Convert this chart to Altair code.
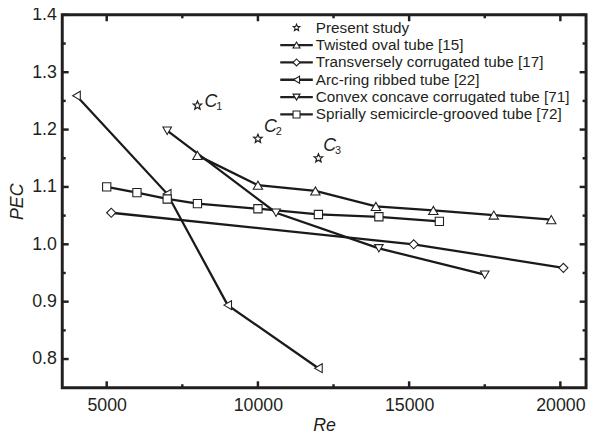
import math
import altair as alt
import pandas as pd

FONT = "Liberation Sans"
INK = "#231f20"

# ---------------- data ----------------
series_names = [
    "Twisted oval tube [15]",
    "Transversely corrugated tube [17]",
    "Arc-ring ribbed tube [22]",
    "Convex concave corrugated tube [71]",
    "Sprially semicircle-grooved tube [72]",
]
present_name = "Present study"

twisted_re = [8000, 10000, 11900, 13900, 15800, 17800, 19700]
twisted_pec = [1.155, 1.103, 1.093, 1.066, 1.059, 1.051, 1.043]
trans_re = [5150, 15150, 20100]
trans_pec = [1.055, 1.000, 0.959]
arc_re = [4000, 7000, 9000, 12000]
arc_pec = [1.259, 1.088, 0.894, 0.784]
convex_re = [7000, 10600, 14000, 17500]
convex_pec = [1.198, 1.055, 0.993, 0.947]
spiral_re = [5000, 6000, 7000, 8000, 10000, 12000, 14000, 16000]
spiral_pec = [1.100, 1.090, 1.079, 1.071, 1.062, 1.052, 1.048, 1.040]

present_re = [8000, 10000, 12000]
present_pec = [1.242, 1.184, 1.150]
case_letter = ["C", "C", "C"]
case_index = ["1", "2", "3"]
case_label_re = [8230, 10200, 12160]
case_label_pec = [1.248, 1.204, 1.171]

x_range = [3530, 20850]
y_range = [0.75, 1.4]
x_major = [5000, 10000, 15000, 20000]
x_minor = [7500, 12500, 17500]
y_major = [0.8, 0.9, 1.0, 1.1, 1.2, 1.3, 1.4]
y_minor = [0.85, 0.95, 1.05, 1.15, 1.25, 1.35]

legend_names = [present_name] + series_names

# ---------------- tables ----------------
rows = []
for name, xs_, ys_ in zip(series_names,
                          [twisted_re, trans_re, arc_re, convex_re, spiral_re],
                          [twisted_pec, trans_pec, arc_pec, convex_pec, spiral_pec]):
    for a, b in zip(xs_, ys_):
        rows.append({"series": name, "Re": a, "PEC": b})
df = pd.DataFrame(rows)
df_present = pd.DataFrame({"series": present_name, "Re": present_re, "PEC": present_pec})
df_cases = pd.DataFrame({"Re": case_label_re, "PEC": case_label_pec,
                         "letter": case_letter, "idx": case_index})
df_legend = pd.DataFrame({"name": legend_names, "row": list(range(len(legend_names)))})

# ---------------- styles ----------------
def star_path(R, r):
    pts = []
    for i in range(10):
        ang = -math.pi / 2 + i * math.pi / 5
        rad = R if i % 2 == 0 else r
        pts.append(f"{rad * math.cos(ang):.3f},{rad * math.sin(ang):.3f}")
    return "M" + "L".join(pts) + "Z"

STAR = star_path(1.0, 0.45)
all_shapes = [STAR, "triangle-up", "diamond", "triangle-left", "triangle-down", "square"]
plot_sizes = [90, 70, 110, 100, 45]

W, H = 531, 378
xs = alt.Scale(domain=x_range, nice=False, zero=False)
ys = alt.Scale(domain=y_range, nice=False, zero=False)
shape_scale = alt.Scale(domain=legend_names, range=all_shapes)

X = lambda: alt.X("Re:Q", scale=xs)
Y = lambda: alt.Y("PEC:Q", scale=ys)

# lines + labelled axes
lines = alt.Chart(df).mark_line(color="#1a1a1a", strokeWidth=2.3).encode(
    x=alt.X("Re:Q", scale=xs, axis=alt.Axis(
        orient="bottom", values=x_major, format="d", ticks=False, tickSize=0,
        domain=False, grid=False, labelPadding=9, labelFlush=False,
        title="Re", titleFontStyle="italic", titleFontWeight="normal",
        titleY=38, titleBaseline="middle")),
    y=alt.Y("PEC:Q", scale=ys, axis=alt.Axis(
        orient="left", values=y_major, format=".1f", ticks=False, tickSize=0,
        domain=False, grid=False, labelPadding=6, labelFlush=False,
        title="PEC", titleFontStyle="italic", titleFontWeight="normal",
        titleAngle=270, titleX=-45, titleY=H / 2, titleBaseline="middle")),
    detail="series:N",
)

# inward frame ticks: short strokes placed through the data scales
TICK_UP, TICK_DOWN, TICK_RIGHT, TICK_LEFT = "M0,0L0,-1", "M0,0L0,1", "M0,0L1,0", "M0,0L-1,0"
MAJ_SIZE, MIN_SIZE = 169, 49


def tick_layer(re_vals, pec_vals, path, size):
    d = pd.DataFrame({"Re": re_vals, "PEC": pec_vals})
    return alt.Chart(d).mark_point(filled=False, stroke=INK, strokeWidth=2.5, opacity=1,
                                   shape=path, size=size).encode(x=X(), y=Y())


tick_layers = []
for vals, size in ((x_major, MAJ_SIZE), (x_minor, MIN_SIZE)):
    tick_layers.append(tick_layer(vals, [y_range[0]] * len(vals), TICK_UP, size))
    tick_layers.append(tick_layer(vals, [y_range[1]] * len(vals), TICK_DOWN, size))
for vals, size in ((y_major, MAJ_SIZE), (y_minor, MIN_SIZE)):
    tick_layers.append(tick_layer([x_range[0]] * len(vals), vals, TICK_RIGHT, size))
    tick_layers.append(tick_layer([x_range[1]] * len(vals), vals, TICK_LEFT, size))

markers = alt.Chart(df).mark_point(filled=True, fill="white", stroke=INK,
                                   strokeWidth=1.1, opacity=1).encode(
    x=X(), y=Y(),
    shape=alt.Shape("series:N", scale=shape_scale, legend=None),
    size=alt.Size("series:N", scale=alt.Scale(domain=series_names, range=plot_sizes), legend=None),
)

stars = alt.Chart(df_present).mark_point(filled=True, fill="white", stroke=INK,
                                         strokeWidth=1.3, opacity=1,
                                         shape=STAR, size=80).encode(x=X(), y=Y())

letters = alt.Chart(df_cases).mark_text(
    font=FONT, fontSize=18, fontStyle="italic", align="left", baseline="middle", color=INK
).encode(x=X(), y=Y(), text="letter:N")
subs = alt.Chart(df_cases).mark_text(
    font=FONT, fontSize=11, align="left", baseline="middle", color=INK, dx=12, dy=5
).encode(x=X(), y=Y(), text="idx:N")

# legend rows: row index -> PEC position (13 px + 17.6 px per row below the top edge)
leg_base = alt.Chart(df_legend).transform_calculate(
    PEC=f"{y_range[1]} - (13 + 17.6 * datum.row) * {(y_range[1] - y_range[0]) / H}"
)
leg_lines = leg_base.transform_filter("datum.row > 0").mark_rule(
    color=INK, strokeWidth=2.3).encode(x=alt.value(221), x2=alt.value(254), y=Y())
leg_marks = leg_base.mark_point(
    filled=True, fill="white", stroke=INK, strokeWidth=1.1, size=50, opacity=1
).encode(x=alt.value(237.5), y=Y(), shape=alt.Shape("name:N", scale=shape_scale, legend=None))
leg_text = leg_base.mark_text(
    font=FONT, fontSize=15.5, align="left", baseline="middle", color=INK
).encode(x=alt.value(257), y=Y(), text="name:N")

chart = alt.layer(lines, markers, stars, letters, subs,
                  leg_lines, leg_marks, leg_text, *tick_layers).properties(
    width=W, height=H,
    background="white",
    autosize=alt.AutoSizeParams(type="none"),
    padding={"left": 55, "top": 4, "right": 4, "bottom": 45},
).configure_view(stroke=INK, strokeWidth=3).configure_axis(
    labelFont=FONT, titleFont=FONT, labelFontSize=18, titleFontSize=18,
    labelColor=INK, titleColor=INK,
)

chart.save("out.html", embed_options={"renderer": "svg", "actions": False})
